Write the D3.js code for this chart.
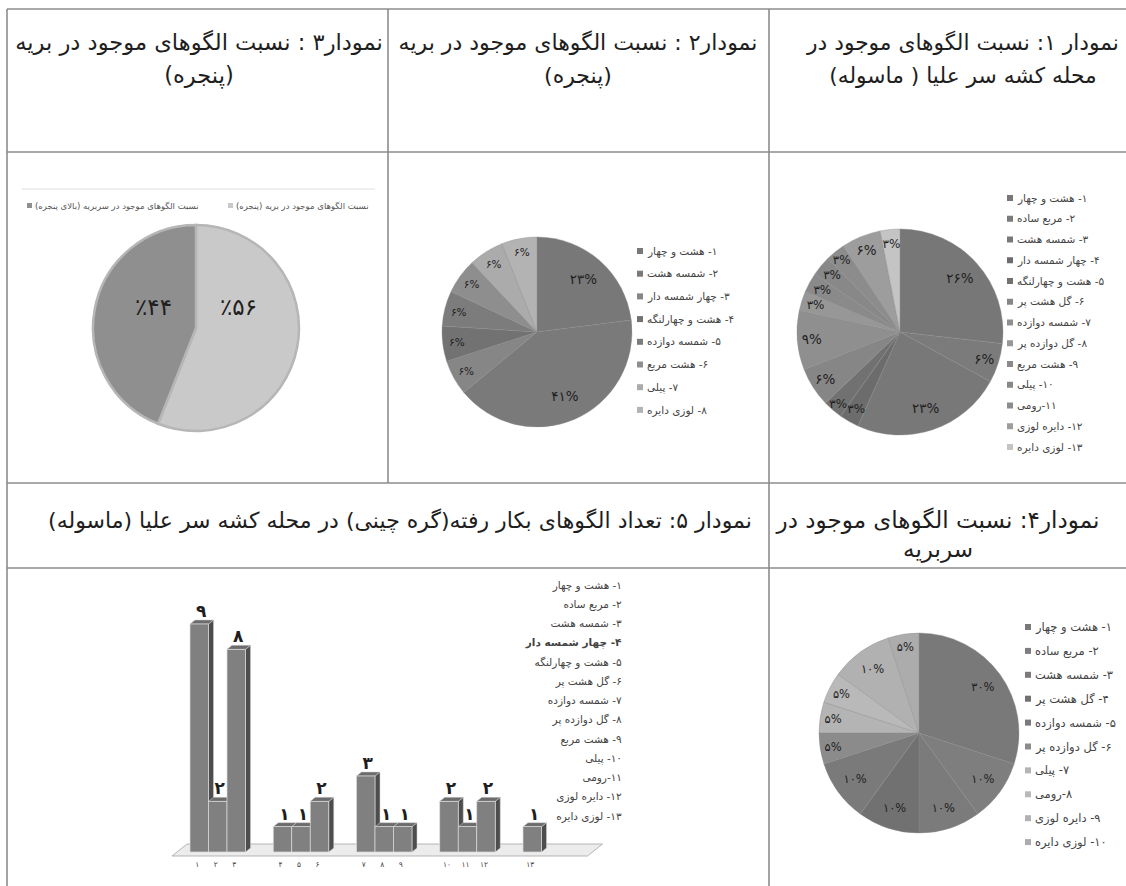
<!DOCTYPE html>
<html>
<head>
<meta charset="utf-8">
<script src="https://cdn.jsdelivr.net/npm/d3@7"></script>
<style>
body { margin: 0; background: #fff; }
svg text { font-family: "DejaVu Sans", sans-serif; fill: #1e1e1e; }
</style>
</head>
<body>
<svg id="chart" width="1126" height="886"></svg>
<script>
// ---- data ----
var pie1Names = ["۱-  هشت و چهار", "۲- مربع ساده", "۳- شمسه  هشت", "۴- چهار شمسه دار", "۵- هشت و چهارلنگه", "۶- گل هشت پر", "۷- شمسه دوازده", "۸- گل دوازده پر", "۹- هشت مربع", "۱۰- پیلی", "۱۱-رومی", "۱۲- دایره لوزی", "۱۳- لوزی دایره"];
var pie1Values = [26, 6, 23, 3, 3, 6, 9, 3, 3, 3, 3, 6, 3];

var pie2Names = ["۱-  هشت و چهار", "۲- شمسه  هشت", "۳- چهار شمسه دار", "۴- هشت و چهارلنگه", "۵- شمسه دوازده", "۶- هشت مربع", "۷- پیلی", "۸- لوزی دایره"];
var pie2Values = [23, 41, 6, 6, 6, 6, 6, 6];

var pie3Names = ["نسبت الگوهای موجود در بریه (پنجره)", "نسبت الگوهای موجود در سربریه (بالای پنجره)"];
var pie3Values = [56, 44];

var pie4Names = ["۱-  هشت و چهار", "۲- مربع ساده", "۳- شمسه  هشت", "۴- گل هشت پر", "۵- شمسه دوازده", "۶- گل دوازده پر", "۷- پیلی", "۸-رومی", "۹- دایره لوزی", "۱۰- لوزی دایره"];
var pie4Values = [30, 10, 10, 10, 10, 5, 5, 5, 10, 5];

var barNames = ["۱- هشت و چهار", "۲- مربع ساده", "۳- شمسه  هشت", "۴- چهار شمسه دار", "۵- هشت و چهارلنگه", "۶- گل هشت پر", "۷- شمسه دوازده", "۸- گل دوازده پر", "۹- هشت مربع", "۱۰- پیلی", "۱۱-رومی", "۱۲- دایره لوزی", "۱۳- لوزی دایره"];
var barTicks = ["۱", "۲", "۳", "۴", "۵", "۶", "۷", "۸", "۹", "۱۰", "۱۱", "۱۲", "۱۳"];
var barValues = [9, 2, 8, 1, 1, 2, 3, 1, 1, 2, 1, 2, 1];
var barGroups = [0, 0, 0, 1, 1, 1, 2, 2, 2, 3, 3, 3, 4];

var title1 = ["نمودار ۱: نسبت الگوهای موجود در", "محله کشه سر علیا ( ماسوله)"];
var title2 = ["نمودار۲ : نسبت الگوهای موجود در بریه", "(پنجره)"];
var title3 = ["نمودار۳ : نسبت الگوهای موجود در بریه", "(پنجره)"];
var title4 = ["نمودار۴:  نسبت الگوهای موجود در", "سربریه"];
var title5 = ["نمودار ۵: تعداد الگوهای بکار رفته(گره چینی) در  محله کشه سر علیا (ماسوله)"];

// ---- grays ----
var pie1Colors = ["#777777", "#7b7b7b", "#787878", "#6c6c6c", "#717171", "#868686", "#8f8f8f", "#979797", "#8a8a8a", "#888888", "#8c8c8c", "#9d9d9d", "#c4c4c4"];
var pie2Colors = ["#787878", "#7a7a7a", "#868686", "#727272", "#7c7c7c", "#8e8e8e", "#ababab", "#b3b3b3"];
var pie3Colors = ["#c9c9c9", "#8f8f8f"];
var pie4Colors = ["#797979", "#7e7e7e", "#7b7b7b", "#717171", "#7a7a7a", "#8b8b8b", "#b4b4b4", "#b9b9b9", "#b1b1b1", "#acacac"];

var svg = d3.select("#chart");

function fa(n) {
   return String(n).replace(/[0-9]/g, function(d) { return "۰۱۲۳۴۵۶۷۸۹"[+d]; });
}

// scale font so the first text of the selection is `width` wide
function fitSize(sel, width) {
   sel.style("font-size", "10px");
   var len = sel.node().getComputedTextLength();
   var fs = 10 * width / len;
   sel.style("font-size", fs + "px");
   return fs;
}

// shift each text so its left (or right) edge sits on x
function alignEdge(sel, x, side) {
   sel.each(function() {
      var b = this.getBBox();
      var edge = side == "right" ? b.x + b.width : b.x;
      var t = d3.select(this);
      t.attr("x", +t.attr("x") + x - edge);
   });
}

function boxesHit(a, b) {
   return a.x < b.x + b.width && b.x < a.x + a.width && a.y < b.y + b.height && b.y < a.y + a.height;
}

// ---- table grid ----
var hb = 152; // bottom of first header row
var grid = [
   [7, 9, 1126, 9], [7, hb, 1126, hb], [7, 483, 1126, 483], [7, 568, 1126, 568],
   [7, 9, 7, 886], [388, 9, 388, 483], [769, 9, 769, 886]
];
svg.append("g").selectAll("line")
   .data(grid)
   .join("line")
   .attr("x1", d => d[0]).attr("y1", d => d[1])
   .attr("x2", d => d[2]).attr("y2", d => d[3])
   .attr("stroke", "#8c8c8c")
   .attr("stroke-width", 1.6);

// ---- titles ----
function drawTitle(lines, cx, y0, step, width) {
   var g = svg.append("g");
   var t = g.selectAll("text")
      .data(lines)
      .join("text")
      .attr("direction", "rtl")
      .attr("text-anchor", "middle")
      .attr("x", cx)
      .attr("y", (d, i) => y0 + i * step)
      .attr("dy", "0.35em")
      .text(d => d);
   fitSize(t, width);
}

drawTitle(title1, 963, 42, 33, 312);
drawTitle(title2, 578, 42, 33, 359);
drawTitle(title3, 199, 42, 33, 368);
drawTitle(title4, 938, 520, 29, 323);
drawTitle(title5, 400, 520, 30, 704);

// ---- pies ----
function drawPie(cx, cy, r, values, colors, opts) {
   var g = svg.append("g").attr("transform", "translate(" + cx + "," + cy + ")");
   var arcs = d3.pie().sort(null).value(d => d)(values);
   var arc = d3.arc().innerRadius(0).outerRadius(r);

   g.selectAll("path")
      .data(arcs)
      .join("path")
      .attr("d", arc)
      .attr("fill", (d, i) => colors[i])
      .attr("stroke", opts.stroke)
      .attr("stroke-width", opts.strokeWidth);

   var labels = g.selectAll("text")
      .data(arcs)
      .join("text")
      .attr("text-anchor", "middle")
      .attr("dy", "0.35em")
      .style("font-size", d => opts.fontSize(d.data) + "px")
      .text(d => opts.label(d.data));

   // place labels, nudging outward when one runs into the previous label
   var prev = null;
   labels.each(function(d) {
      var t = d3.select(this);
      var k = opts.labelR(d.data) * r;
      for (var step = 0; step < 8; step++) {
         var c = d3.arc().innerRadius(k).outerRadius(k).centroid(d);
         if (opts.labelY != null) c[1] = opts.labelY * r;
         t.attr("x", c[0]).attr("y", c[1]);
         var b = this.getBBox();
         if (!prev || !boxesHit(b, prev)) break;
         k += 2;
      }
      prev = this.getBBox();
   });
}

function drawLegend(left, y0, step, names, colors, fs) {
   var g = svg.append("g");
   g.selectAll("rect")
      .data(names)
      .join("rect")
      .attr("x", left)
      .attr("y", (d, i) => y0 + i * step - 3)
      .attr("width", 6)
      .attr("height", 6)
      .attr("fill", (d, i) => colors[i]);
   var t = g.selectAll("text")
      .data(names)
      .join("text")
      .attr("direction", "rtl")
      .attr("x", left + 10)
      .attr("y", (d, i) => y0 + i * step)
      .attr("dy", "0.35em")
      .style("fill", "#444")
      .style("font-size", fs + "px")
      .text(d => d);
   alignEdge(t, left + 10, "left");
}

var pctLabel = v => fa(v) + "%";

// chart 1
drawPie(900, 332, 103, pie1Values, pie1Colors, {
   stroke: "#8a8a8a", strokeWidth: 0.4,
   labelR: v => v >= 20 ? 0.78 : 0.86,
   fontSize: v => v > 3 ? 13.5 : 12,
   label: pctLabel
});
drawLegend(1007, 198, 20.75, pie1Names, pie1Colors, 10.5);

// chart 2
drawPie(537, 332, 95, pie2Values, pie2Colors, {
   stroke: "#8a8a8a", strokeWidth: 0.4,
   labelR: v => v >= 20 ? 0.74 : 0.85,
   fontSize: v => v >= 20 ? 13.5 : 10.5,
   label: pctLabel
});
drawLegend(637, 251, 22.7, pie2Names, pie2Colors, 10.5);

// chart 3
drawPie(196, 328, 103, pie3Values, pie3Colors, {
   stroke: "#b6b6b6", strokeWidth: 2.5,
   labelR: v => 0.42,
   labelY: -0.2,
   fontSize: v => 23,
   label: v => "٪" + fa(v)
});
svg.append("line")
   .attr("x1", 22).attr("x2", 375)
   .attr("y1", 189).attr("y2", 189)
   .attr("stroke", "#dedede");
var leg3 = svg.append("g");
var leg3x = [228, 27];
leg3.selectAll("rect")
   .data(pie3Names)
   .join("rect")
   .attr("x", (d, i) => leg3x[i])
   .attr("y", 203)
   .attr("width", 5)
   .attr("height", 5)
   .attr("fill", (d, i) => pie3Colors[i]);
var leg3t = leg3.selectAll("text")
   .data(pie3Names)
   .join("text")
   .attr("direction", "rtl")
   .attr("x", (d, i) => leg3x[i] + 8)
   .attr("y", 206)
   .attr("dy", "0.35em")
   .style("fill", "#555")
   .style("font-size", "8.5px")
   .text(d => d);
leg3t.each(function(d, i) { alignEdge(d3.select(this), leg3x[i] + 8, "left"); });

// chart 4
drawPie(919, 733, 100, pie4Values, pie4Colors, {
   stroke: "#8a8a8a", strokeWidth: 0.4,
   labelR: v => v >= 10 ? 0.79 : 0.87,
   fontSize: v => 11.5,
   label: pctLabel
});
drawLegend(1025, 627, 23.9, pie4Names, pie4Colors, 11.5);

// ---- chart 5: 3D-looking columns ----
var y = d3.scaleLinear().domain([0, 9]).range([852, 624]);
var xGroup = d3.scaleBand().domain(d3.range(5)).range([190, 578.5]).paddingInner(1 / 3);
var xInner = d3.scaleBand().domain([0, 1, 2]).range([0, xGroup.bandwidth()]);
var dx = 5, dy = -4;

var bars = barValues.map(function(v, i) {
   var slot = i - barGroups.indexOf(barGroups[i]);
   return { v: v, label: barTicks[i], x: xGroup(barGroups[i]) + xInner(slot), w: xInner.bandwidth() };
});

var x0 = xGroup.range()[0], x1 = xGroup.range()[1];
svg.append("polygon")
   .attr("points", [[x0 - 18, 856], [x1 + 9, 856], [x1 + 24, 844], [x0 - 3, 844]].join(" "))
   .attr("fill", "#ececec")
   .attr("stroke", "#a5a5a5")
   .attr("stroke-width", 0.8);

var barG = svg.append("g").selectAll("g")
   .data(bars)
   .join("g");

barG.append("polygon")
   .attr("points", d => [[d.x + d.w, y(d.v)], [d.x + d.w + dx, y(d.v) + dy], [d.x + d.w + dx, y(0) + dy], [d.x + d.w, y(0)]].join(" "))
   .attr("fill", "#4d4d4d")
   .attr("stroke", "#d0d0d0")
   .attr("stroke-width", 0.5);

barG.append("polygon")
   .attr("points", d => [[d.x, y(d.v)], [d.x + dx, y(d.v) + dy], [d.x + d.w + dx, y(d.v) + dy], [d.x + d.w, y(d.v)]].join(" "))
   .attr("fill", "#6c6c6c")
   .attr("stroke", "#d0d0d0")
   .attr("stroke-width", 0.5);

barG.append("rect")
   .attr("x", d => d.x)
   .attr("y", d => y(d.v))
   .attr("width", d => d.w)
   .attr("height", d => y(0) - y(d.v))
   .attr("fill", "#808080")
   .attr("stroke", "#dcdcdc")
   .attr("stroke-width", 0.7);

barG.append("text")
   .attr("x", d => d.x + d.w / 2 + 2)
   .attr("y", d => y(d.v) - 7)
   .attr("text-anchor", "middle")
   .style("font-size", "17px")
   .style("font-weight", "bold")
   .text(d => fa(d.v));

barG.append("text")
   .attr("x", d => d.x + d.w / 2 - 2)
   .attr("y", 867)
   .attr("text-anchor", "middle")
   .style("font-size", "7.5px")
   .style("fill", "#444")
   .text(d => d.label);

var barLeg = svg.append("g").selectAll("text")
   .data(barNames)
   .join("text")
   .attr("direction", "rtl")
   .attr("x", 622)
   .attr("y", (d, i) => 585 + i * 19.25)
   .attr("dy", "0.35em")
   .style("fill", "#444")
   .style("font-size", "10.5px")
   .style("font-weight", (d, i) => i == 3 ? "bold" : "normal")
   .text(d => d);
alignEdge(barLeg, 622, "right");
</script>
</body>
</html>
